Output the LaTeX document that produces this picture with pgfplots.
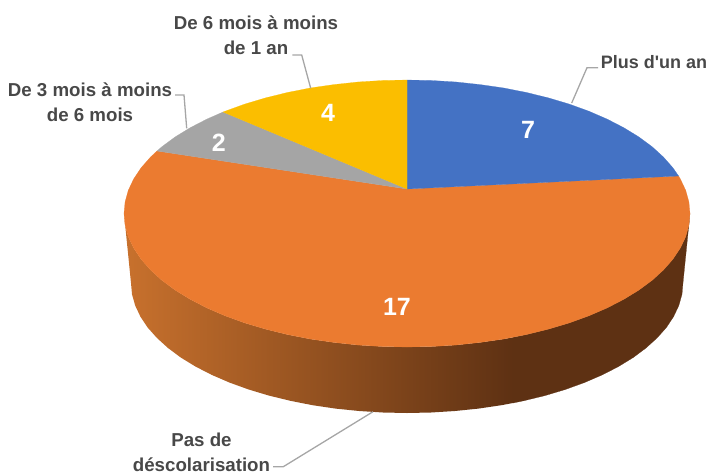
\documentclass[border=0pt]{standalone}
\usepackage{pgfplots}
\pgfplotsset{compat=1.18}
\usepackage{fontspec}
\setmainfont{Liberation Sans}
\newfontfamily\plainfont{Liberation Sans}
\definecolor{cBlue}{HTML}{4472C4}
\definecolor{cOrange}{HTML}{EB7B30}
\definecolor{cGray}{HTML}{A5A5A5}
\definecolor{cYellow}{HTML}{FBBE00}
\definecolor{cSideL}{HTML}{C8712D}
\definecolor{cSideR}{HTML}{5E3113}
\definecolor{cLead}{HTML}{A6A6A6}
\definecolor{cText}{HTML}{484848}
\tikzset{
  lbl/.style={font=\bfseries\fontsize{18.7}{25}\selectfont, text=cText, align=center, inner sep=0pt},
  lblb/.style={font=\plainfont\bfseries\fontsize{18}{25}\selectfont, text=cText, align=center, inner sep=0pt},
  val/.style={font=\bfseries\fontsize{25}{25}\selectfont, text=white, inner sep=0pt},
}
\begin{document}
\begin{tikzpicture}
\path[use as bounding box] (0,0) rectangle (710pt,475pt);
\begin{axis}[
  at={(0,0)}, anchor=south west,
  width=710pt, height=475pt, scale only axis,
  xmin=0, xmax=710, ymin=0, ymax=475, y dir=reverse,
  hide axis, clip=false,
]
% side wall, shaded part
\addplot[draw=none, mark=none, left color=cSideL, right color=cSideR] coordinates {
(124,213.5)(125.1,225.1)(128.3,236.7)(133.7,248.1)(141.1,259.2)(150.5,269.9)(161.9,280.3)(175.2,290.1)(190.2,299.3)(206.9,307.9)(225.1,315.8)(244.7,322.9)(265.5,329.1)(287.4,334.5)(310.2,339.0)(333.8,342.4)(357.9,345.0)(382.3,346.5)(407,347)(431.7,346.5)(456.1,345.0)(480.2,342.4)(503.8,339.0)(513,337.3)
(513,403)(501.4,405.2)(478.4,408.6)(454.9,411)(431.1,412.5)(407,413)(382.9,412.5)(359.1,411)(335.6,408.6)(312.6,405.2)(290.4,400.8)(269,395.6)(248.7,389.5)(229.6,382.6)(211.8,374.9)(195.6,366.6)(180.9,357.6)(168,348)(156.9,337.9)(147.6,327.5)(140.4,316.6)(135.2,305.6)(132,294.3)(131,283)
} -- cycle;
% side wall, dark part
\addplot[fill=cSideR, draw=cSideR, line width=0.2pt, mark=none] coordinates {
(513,337.3)(526.6,334.5)(548.5,329.1)(569.3,322.9)(588.9,315.8)(607.1,307.9)(623.8,299.3)(638.8,290.1)(652.1,280.3)(663.5,269.9)(672.9,259.2)(680.3,248.1)(685.7,236.7)(688.9,225.1)(690,213.5)
(683,283)(682,294.3)(678.8,305.6)(673.6,316.6)(666.4,327.5)(657.1,337.9)(646,348)(633.1,357.6)(618.4,366.6)(602.2,374.9)(584.4,382.6)(565.3,389.5)(545,395.6)(523.6,400.8)(513,403)
} -- cycle;
% Pas de descolarisation: 17
\addplot[fill=cOrange, draw=cOrange, line width=0.2pt, mark=none] coordinates {
(407,189)(678.6,176)(680.3,178.9)(685.7,190.3)(688.9,201.9)(690,213.5)(688.9,225.1)(685.7,236.7)(680.3,248.1)(672.9,259.2)(663.5,269.9)(652.1,280.3)(638.8,290.1)(623.8,299.3)(607.1,307.9)(588.9,315.8)(569.3,322.9)(548.5,329.1)(526.6,334.5)(503.8,339.0)(480.2,342.4)(456.1,345.0)(431.7,346.5)(407,347)(382.3,346.5)(357.9,345.0)(333.8,342.4)(310.2,339.0)(287.4,334.5)(265.5,329.1)(244.7,322.9)(225.1,315.8)(206.9,307.9)(190.2,299.3)(175.2,290.1)(161.9,280.3)(150.5,269.9)(141.1,259.2)(133.7,248.1)(128.3,236.7)(125.1,225.1)(124,213.5)(125.1,201.9)(128.3,190.3)(133.7,178.9)(141.1,167.8)(150.5,157.1)(157,151)
} -- cycle;
% Plus d'un an: 7
\addplot[fill=cBlue, draw=cBlue, line width=0.2pt, mark=none] coordinates {
(407,189)(407,80)(431.7,80.5)(456.1,82.0)(480.2,84.6)(503.8,88.0)(526.6,92.5)(548.5,97.9)(569.3,104.1)(588.9,111.2)(607.1,119.1)(623.8,127.7)(638.8,136.9)(652.1,146.7)(663.5,157.1)(672.9,167.8)(678.6,176)
} -- cycle;
% De 3 mois: 2
\addplot[fill=cGray, draw=cGray, line width=0.2pt, mark=none] coordinates {
(407,189)(157,151)(161.9,146.7)(175.2,136.9)(190.2,127.7)(206.9,119.1)(223,112)
} -- cycle;
% De 6 mois: 4
\addplot[fill=cYellow, draw=cYellow, line width=0.2pt, mark=none] coordinates {
(407,189)(223,112)(225.1,111.2)(244.7,104.1)(265.5,97.9)(287.4,92.5)(310.2,88.0)(333.8,84.6)(357.9,82.0)(382.3,80.5)(407,80)
} -- cycle;
% leader lines
\addplot[cLead, line width=1.3pt, mark=none] coordinates {(571.7,103)(587,67.7)(598,67.7)};
\addplot[cLead, line width=1.3pt, mark=none] coordinates {(310.7,88.3)(301.7,55)(292.3,55)};
\addplot[cLead, line width=1.3pt, mark=none] coordinates {(186.7,128.3)(184,95)(175,95)};
\addplot[cLead, line width=1.3pt, mark=none] coordinates {(373,411.7)(283.3,466.7)(273,466.7)};
% labels
\node[lblb] at (axis cs:654,62) {Plus d'un an};
\node[lbl] at (axis cs:256,35.5) {De 6 mois à moins\\de 1 an};
\node[lbl] at (axis cs:90,102.5) {De 3 mois à moins\\de 6 mois};
\node[lbl] at (axis cs:201.5,452.5) {Pas de\\déscolarisation};
\node[val] at (axis cs:528,130) {7};
\node[val] at (axis cs:328,113) {4};
\node[val] at (axis cs:218.7,143) {2};
\node[val] at (axis cs:397,307) {17};
\end{axis}
\end{tikzpicture}
\end{document}
